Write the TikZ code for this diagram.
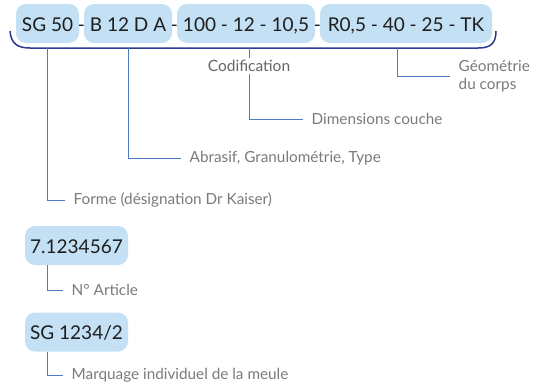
\documentclass[tikz,border=0pt]{standalone}
\usepackage{fontspec}
\setmainfont{Lato}
\usepackage{tikz}
\definecolor{codefill}{HTML}{C4E0F5}
\definecolor{codetext}{HTML}{1E1E1E}
\definecolor{lblgray}{HTML}{7A7A7A}
\definecolor{cdfgray}{HTML}{666666}
\definecolor{linkblue}{HTML}{4C7BC6}
\definecolor{bracenavy}{HTML}{2B3990}
\tikzset{
  code/.style={rectangle, fill=codefill, rounded corners=10pt, inner sep=0pt,
               font=\fontsize{19}{22}\selectfont, text=codetext,
               minimum height=39pt, text height=15pt, text depth=0pt},
  sep/.style={inner sep=0pt, font=\fontsize{19}{22}\selectfont, text=codetext,
              text height=15pt, text depth=0pt},
  lbl/.style={anchor=west, align=left, inner sep=0pt, inner xsep=8.5pt,
              font=\fontsize{15.3}{18}\selectfont, text=lblgray},
  link/.style={draw=linkblue, line width=1pt},
  brace/.style={draw=bracenavy, line width=1.5pt},
}

\begin{document}
\begin{tikzpicture}[x=1pt,y=-1pt]
\useasboundingbox (0,0) rectangle (534,388);
% codification
\node[code, minimum width=63pt] (sg) at (47.5,23.5) {SG 50};
\node[code, minimum width=88pt] (abr) at (128,23.5) {B 12 D A};
\node[code, minimum width=138pt] (dim) at (246,23.5) {100 - 12 - 10,5};
\node[code, minimum width=172pt] (geo) at (406,23.5) {R0,5 - 40 - 25 - TK};
\node[sep] (d1) at (81.5,23.5) {-};
\node[sep] (d2) at (174.5,23.5) {-};
\node[sep] (d3) at (317.5,23.5) {-};
\draw[brace] (10,31) .. controls (11,44) and (18,48) .. (30,48) -- (478,48)
  .. controls (490,48) and (496,44) .. (496,31);
\node[lbl] (forme) at (65,200) {Forme (désignation Dr Kaiser)};
\node[lbl] (abrtxt) at (181,158) {Abrasif, Granulométrie, Type};
\node[lbl] (dimtxt) at (303,119) {Dimensions couche};
\node[lbl] (geotxt) at (450,76) {Géométrie\\du corps};
\draw[link, shorten <=5pt] (sg.south) |- (forme.west);
\draw[link, shorten <=5pt] (abr.south) |- (abrtxt.west);
\draw[link, shorten <=5pt] ([xshift=3pt]dim.south) |- (dimtxt.west);
\draw[link, shorten <=5pt] ([xshift=-9pt]geo.south) |- (geotxt.west);
\node[fill=white, inner sep=2pt, text=cdfgray, font=\fontsize{15.5}{17}\selectfont]
  (cdf) at (249,66) {Codification};
% article / marquage
\node[code, minimum width=103pt] (art) at (76.5,245.5) {7.1234567};
\node[lbl] (arttxt) at (63,290) {N° Article};
\draw[link] ([xshift=23pt]art.south west) |- (arttxt.west);
\node[code, minimum width=103pt] (mark) at (76.5,332) {SG 1234/2};
\node[lbl] (marktxt) at (63,375) {Marquage individuel de la meule};
\draw[link] ([xshift=23pt]mark.south west) |- (marktxt.west);
\end{tikzpicture}
\end{document}
